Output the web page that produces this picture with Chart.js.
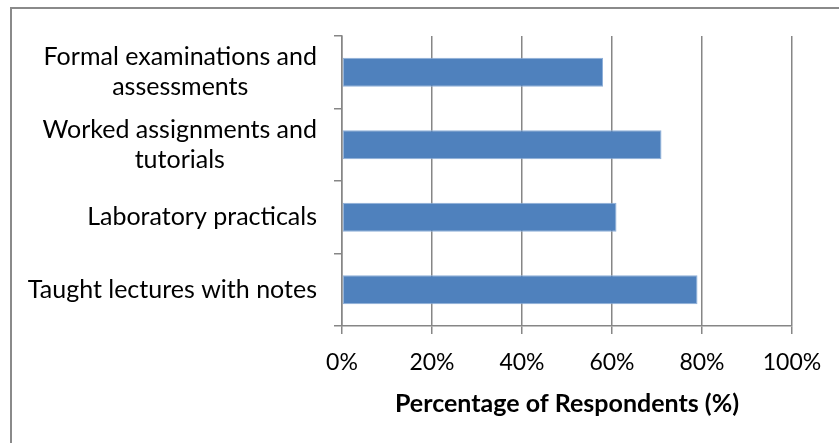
<!DOCTYPE html>
<html>
<head>
<meta charset="utf-8">
<script src="https://cdn.jsdelivr.net/npm/chart.js@4"></script>
<style>
  html, body { margin: 0; padding: 0; background: #fff; overflow: hidden; }
  #wrap { position: relative; width: 839px; height: 443px; }
  #frame { position: absolute; left: 10px; top: 7px; width: 900px; height: 500px;
           border: 2px solid #8a8a8a; box-sizing: border-box; pointer-events: none; }
</style>
</head>
<body>
<div id="wrap">
  <canvas id="chart" width="839" height="443"></canvas>
  <div id="frame"></div>
</div>
<script>
// categories, top to bottom
const categories = [
    ['Formal examinations and', 'assessments'],
    ['Worked assignments and', 'tutorials'],
    ['Laboratory practicals'],
    ['Taught lectures with notes']
];
const respondents = [58, 71, 61, 79];
const xTicks = [0, 20, 40, 60, 80, 100];

const FONT = 'Lato, Calibri, sans-serif';
const gridColor = '#868686';

// draws the category labels left of the axis, lines centred in each label
const categoryLabels = {
    id: 'categoryLabels',
    afterDraw(chart) {
        const ctx = chart.ctx;
        const y = chart.scales.y;
        const right = y.right - 25;
        const lh = 30;
        ctx.save();
        ctx.font = '25px ' + FONT;
        ctx.fillStyle = '#000';
        ctx.textAlign = 'center';
        ctx.textBaseline = 'middle';
        categories.forEach((lines, i) => {
            const w = Math.max(...lines.map(l => ctx.measureText(l).width));
            const cx = right - w / 2;
            const cy = y.getPixelForValue(i);
            lines.forEach((l, j) => {
                ctx.fillText(l, cx, cy + (j - (lines.length - 1) / 2) * lh);
            });
        });
        ctx.restore();
    }
};

new Chart(document.getElementById('chart').getContext('2d'), {
    type: 'bar',
    data: {
        labels: categories.map(c => c.join(' ')),
        datasets: [{
            data: respondents,
            backgroundColor: '#4F81BD',
            borderColor: '#8fb0d9',
            borderWidth: 1,
            borderSkipped: false,
            barPercentage: 0.4,
            categoryPercentage: 1
        }]
    },
    options: {
        indexAxis: 'y',
        responsive: false,
        animation: false,
        layout: { padding: { top: 36, right: 47, left: 0, bottom: 0 } },
        plugins: { legend: { display: false }, tooltip: { enabled: false } },
        scales: {
            x: {
                min: 0, max: 100,
                afterBuildTicks: s => { s.ticks = xTicks.map(v => ({ value: v })); },
                afterFit: s => { s.height = 117; },
                grid: { color: gridColor, lineWidth: 1.5, tickLength: 8 },
                border: { color: gridColor, width: 1.5 },
                ticks: {
                    color: '#000',
                    font: { family: FONT, size: 23 },
                    padding: 15,
                    callback: v => v + '%'
                },
                title: {
                    display: true,
                    text: 'Percentage of Respondents (%)',
                    color: '#000',
                    font: { family: FONT, size: 25, weight: 'bold' },
                    padding: { top: 0, bottom: 24 }
                }
            },
            y: {
                afterFit: s => { s.width = 342; },
                grid: { offset: true, drawOnChartArea: false, color: gridColor, lineWidth: 1.5, tickLength: 8 },
                border: { color: gridColor, width: 1.5 },
                ticks: { display: false }
            }
        }
    },
    plugins: [categoryLabels]
});
</script>
</body>
</html>
